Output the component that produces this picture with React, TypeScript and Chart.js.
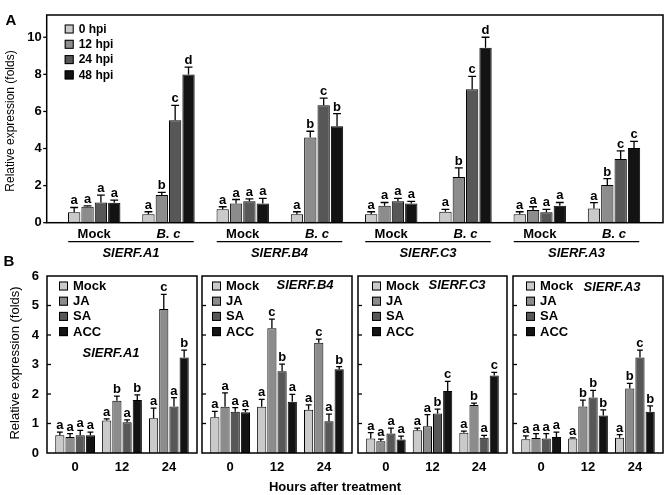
import React, { useEffect, useRef, useState } from "react";
import { Chart, registerables } from "chart.js";

Chart.register(...registerables);

const FONT = "'Liberation Sans', Arial, Helvetica, sans-serif";

// ---------------- Panel A data ----------------
const groupsA = ["Mock", "B. c", "Mock", "B. c", "Mock", "B. c", "Mock", "B. c"];
const genesA = ["SlERF.A1", "SlERF.B4", "SlERF.C3", "SlERF.A3"];
const seriesA = ["0 hpi", "12 hpi", "24 hpi", "48 hpi"];
const yTicksA = [0, 2, 4, 6, 8, 10];

const hpi0 = [0.56, 0.45, 0.72, 0.45, 0.45, 0.59, 0.45, 0.77];
const hpi12 = [0.86, 1.49, 1.04, 4.59, 0.91, 2.47, 0.68, 2.03];
const hpi24 = [1.09, 5.52, 1.15, 6.33, 1.16, 7.19, 0.57, 3.44];
const hpi48 = [1.08, 7.99, 1.04, 5.2, 1.04, 9.43, 0.91, 4.03];
const hpi0Err = [0.26, 0.14, 0.14, 0.14, 0.14, 0.13, 0.14, 0.31];
const hpi12Err = [0.05, 0.14, 0.21, 0.34, 0.18, 0.49, 0.18, 0.35];
const hpi24Err = [0.4, 0.81, 0.14, 0.39, 0.15, 0.7, 0.15, 0.43];
const hpi48Err = [0.14, 0.4, 0.27, 0.68, 0.11, 0.57, 0.18, 0.36];
const hpi0Sig = ["a", "a", "a", "a", "a", "a", "a", "a"];
const hpi12Sig = ["a", "b", "a", "b", "a", "b", "a", "b"];
const hpi24Sig = ["a", "c", "a", "c", "a", "c", "a", "c"];
const hpi48Sig = ["a", "d", "a", "b", "a", "d", "a", "c"];

// ---------------- Panel B data ----------------
const hoursB = ["0", "12", "24"];
const treatmentsB = ["Mock", "JA", "SA", "ACC"];
const yTicksB = [0, 1, 2, 3, 4, 5, 6];
const genesB = ["SlERF.A1", "SlERF.B4", "SlERF.C3", "SlERF.A3"];

// rows: Mock, JA, SA, ACC ; columns: 0, 12, 24 h
const a1Mean = [[0.6, 1.1, 1.18], [0.54, 1.77, 4.88], [0.6, 1.04, 1.58], [0.6, 1.8, 3.24]];
const a1Err = [[0.11, 0.06, 0.34], [0.12, 0.16, 0.5], [0.17, 0.08, 0.3], [0.11, 0.17, 0.25]];
const a1Sig = [["a", "a", "a"], ["a", "b", "c"], ["a", "a", "a"], ["a", "b", "b"]];

const b4Mean = [[1.21, 1.57, 1.47], [1.57, 4.23, 3.74], [1.4, 2.77, 1.08], [1.38, 1.74, 2.84]];
const b4Err = [[0.2, 0.25, 0.16], [0.47, 0.31, 0.12], [0.14, 0.24, 0.24], [0.09, 0.25, 0.09]];
const b4Sig = [["a", "a", "a"], ["a", "c", "c"], ["a", "b", "a"], ["a", "a", "b"]];

const c3Mean = [[0.49, 0.77, 0.69], [0.4, 0.91, 1.63], [0.66, 1.34, 0.52], [0.46, 2.1, 2.63]];
const c3Err = [[0.2, 0.07, 0.05], [0.07, 0.39, 0.06], [0.18, 0.15, 0.08], [0.11, 0.33, 0.1]];
const c3Sig = [["a", "a", "a"], ["a", "a", "b"], ["a", "b", "a"], ["a", "c", "c"]];

const a3Mean = [[0.47, 0.49, 0.52], [0.51, 1.58, 2.19], [0.49, 1.88, 3.24], [0.54, 1.27, 1.4]];
const a3Err = [[0.11, 0.02, 0.1], [0.15, 0.21, 0.17], [0.17, 0.24, 0.25], [0.17, 0.19, 0.2]];
const a3Sig = [["a", "a", "a"], ["a", "b", "b"], ["a", "b", "c"], ["a", "b", "b"]];

const meansB = [a1Mean, b4Mean, c3Mean, a3Mean];
const errsB = [a1Err, b4Err, c3Err, a3Err];
const sigsB = [a1Sig, b4Sig, c3Sig, a3Sig];

// ---------------- styling ----------------
const barColors = ["#cacaca", "#8c8c8c", "#575757", "#131313"];
const W = 666;
const A_TOP = 0;
const A_H = 266;
const B_TOP = 252;
const B_H = 243;
const panelLeft = [47, 202, 358, 513];
const panelRight = [197, 352, 507, 663];
const legendDx = [12, 10, 14, 13];
const innerLabelPos = [
  [64, 77],
  [103, 9],
  [99, 9],
  [99, 11],
];

type Decor = {
  letterSize: number;
  tickValues: number[];
  tickOut: boolean;
  legend: { x: number; y: number; row: number; box: number; size: number; gap: number };
  geneRow?: { genes: string[]; from: number; to: number; lineDy: number; textDy: number };
  innerLabel?: { text: string; dx: number; dy: number };
  pageTop: number;
  texts: { text: string; x: number; y: number; font: string; rotate?: number }[];
};

function makeDecorPlugin(d: Decor) {
  return {
    id: "decor",
    afterDatasetsDraw(chart: any) {
      const ctx = chart.ctx;
      const area = chart.chartArea;
      const ys = chart.scales.y;
      const xs = chart.scales.x;
      ctx.save();
      chart.data.datasets.forEach((ds: any, di: number) => {
        const meta = chart.getDatasetMeta(di);
        meta.data.forEach((bar: any, i: number) => {
          const top = ys.getPixelForValue(ds.data[i].y + ds.errors[i]);
          const half = bar.width * 0.32;
          ctx.strokeStyle = "#000";
          ctx.lineWidth = 1.3;
          ctx.beginPath();
          ctx.moveTo(bar.x, bar.y);
          ctx.lineTo(bar.x, top);
          ctx.moveTo(bar.x - half, top);
          ctx.lineTo(bar.x + half, top);
          ctx.stroke();
          ctx.fillStyle = "#000";
          ctx.font = `bold ${d.letterSize}px ${FONT}`;
          ctx.textAlign = "center";
          ctx.textBaseline = "alphabetic";
          ctx.fillText(ds.letters[i], bar.x, top - 3);
        });
      });
      ctx.strokeStyle = "#000";
      ctx.lineWidth = 1.5;
      ctx.strokeRect(area.left, area.top, area.right - area.left, area.bottom - area.top);
      ctx.lineWidth = 1.3;
      d.tickValues.forEach((v) => {
        const y = ys.getPixelForValue(v);
        if (d.tickOut) {
          ctx.beginPath();
          ctx.moveTo(area.left - 3.5, y);
          ctx.lineTo(area.left, y);
          ctx.stroke();
        } else if (y > area.top + 1 && y < area.bottom - 1) {
          ctx.beginPath();
          ctx.moveTo(area.left, y);
          ctx.lineTo(area.left + 4, y);
          ctx.stroke();
        }
      });
      const lg = d.legend;
      chart.data.datasets.forEach((ds: any, di: number) => {
        const cy = area.top + lg.y + di * lg.row;
        const bx = area.left + lg.x;
        ctx.fillStyle = ds.backgroundColor;
        ctx.fillRect(bx, cy - lg.box / 2, lg.box, lg.box);
        ctx.lineWidth = 1;
        ctx.strokeStyle = "#000";
        ctx.strokeRect(bx + 0.5, cy - lg.box / 2 + 0.5, lg.box - 1, lg.box - 1);
        ctx.fillStyle = "#000";
        ctx.font = `bold ${lg.size}px ${FONT}`;
        ctx.textAlign = "left";
        ctx.textBaseline = "middle";
        ctx.fillText(ds.label, bx + lg.box + lg.gap, cy + 0.5);
      });
      if (d.geneRow) {
        const gr = d.geneRow;
        gr.genes.forEach((g, k) => {
          const x1 = xs.getPixelForValue(2 * k + gr.from);
          const x2 = xs.getPixelForValue(2 * k + 1 + gr.to);
          ctx.strokeStyle = "#000";
          ctx.lineWidth = 1.3;
          ctx.beginPath();
          ctx.moveTo(x1, area.bottom + gr.lineDy);
          ctx.lineTo(x2, area.bottom + gr.lineDy);
          ctx.stroke();
          ctx.fillStyle = "#000";
          ctx.font = `italic bold 13px ${FONT}`;
          ctx.textAlign = "center";
          ctx.textBaseline = "middle";
          ctx.fillText(g, (x1 + x2) / 2, area.bottom + gr.textDy);
        });
      }
      if (d.innerLabel) {
        const il = d.innerLabel;
        ctx.fillStyle = "#000";
        ctx.font = `italic bold 13px ${FONT}`;
        ctx.textAlign = "center";
        ctx.textBaseline = "middle";
        ctx.fillText(il.text, area.left + il.dx, area.top + il.dy);
      }
      d.texts.forEach((t) => {
        ctx.save();
        ctx.translate(t.x, t.y - d.pageTop);
        if (t.rotate) ctx.rotate(t.rotate);
        ctx.font = t.font;
        ctx.fillStyle = "#000";
        ctx.textAlign = "center";
        ctx.textBaseline = "middle";
        ctx.fillText(t.text, 0, 0);
        ctx.restore();
      });
      ctx.restore();
    },
  };
}

function makeConfigA(): any {
  const means = [hpi0, hpi12, hpi24, hpi48];
  const errs = [hpi0Err, hpi12Err, hpi24Err, hpi48Err];
  const sigs = [hpi0Sig, hpi12Sig, hpi24Sig, hpi48Sig];
  const decor: Decor = {
    letterSize: 13,
    tickValues: yTicksA,
    tickOut: true,
    legend: { x: 18, y: 14, row: 15.3, box: 9, size: 12, gap: 5 },
    geneRow: { genes: genesA, from: -0.35, to: 0.34, lineDy: 19, textDy: 30.5 },
    pageTop: A_TOP,
    texts: [
      { text: "A", x: 11, y: 21, font: `bold 15px ${FONT}` },
      { text: "Relative expression (folds)", x: 11, y: 121, rotate: -Math.PI / 2, font: `12px ${FONT}` },
    ],
  };
  return {
    type: "bar",
    data: {
      datasets: seriesA.map((label, s) => ({
        label,
        data: means[s].map((v, i) => ({ x: i, y: v })),
        errors: errs[s],
        letters: sigs[s],
        backgroundColor: barColors[s],
        borderColor: "#000",
        borderWidth: 1,
        categoryPercentage: 0.72,
        barPercentage: 0.92,
      })),
    },
    options: {
      responsive: false,
      animation: false,
      layout: { padding: { left: 0, right: W - 663, top: 15, bottom: 0 } },
      plugins: {
        legend: { display: false },
        tooltip: { enabled: false },
      },
      scales: {
        x: {
          type: "linear",
          offset: false,
          min: -0.64,
          max: 7.66,
          afterBuildTicks: (s: any) => {
            s.ticks = groupsA.map((_, i) => ({ value: i }));
          },
          afterFit: (s: any) => {
            s.height = A_H - 222.7;
          },
          grid: { display: false, drawTicks: false, offset: false },
          border: { display: false },
          ticks: {
            autoSkip: false,
            maxRotation: 0,
            padding: 4,
            color: "#000",
            callback: (v: any) => groupsA[v] ?? "",
            font: (c: any) => ({
              family: FONT,
              size: 13,
              weight: "bold",
              style: groupsA[c.index] === "B. c" ? "italic" : "normal",
            }),
          },
        },
        y: {
          min: 0,
          max: 11.2,
          afterBuildTicks: (s: any) => {
            s.ticks = yTicksA.map((v) => ({ value: v }));
          },
          afterFit: (s: any) => {
            s.width = 46.7;
          },
          grid: { display: false, drawTicks: false },
          border: { display: false },
          ticks: { padding: 5, color: "#000", font: { family: FONT, size: 13, weight: "bold" } },
        },
      },
    },
    plugins: [makeDecorPlugin(decor)],
  };
}

function makeConfigB(p: number): any {
  const texts =
    p === 0
      ? [
          { text: "B", x: 9, y: 262, font: `bold 15px ${FONT}` },
          { text: "Relative expression (folds)", x: 15, y: 363, rotate: -Math.PI / 2, font: `13px ${FONT}` },
          { text: "Hours after treatment", x: 335, y: 487, font: `bold 13px ${FONT}` },
        ]
      : [];
  const decor: Decor = {
    letterSize: 13,
    tickValues: yTicksB,
    tickOut: false,
    legend: { x: legendDx[p], y: 10, row: 15.2, box: 9, size: 13, gap: 5 },
    innerLabel: { text: genesB[p], dx: innerLabelPos[p][0], dy: innerLabelPos[p][1] },
    pageTop: B_TOP,
    texts,
  };
  return {
    type: "bar",
    data: {
      datasets: treatmentsB.map((label, s) => ({
        label,
        data: meansB[p][s].map((v, i) => ({ x: i, y: v })),
        errors: errsB[p][s],
        letters: sigsB[p][s],
        backgroundColor: barColors[s],
        borderColor: "#000",
        borderWidth: 1,
        categoryPercentage: 0.87,
        barPercentage: 0.9,
      })),
    },
    options: {
      responsive: false,
      animation: false,
      layout: {
        padding: {
          left: p === 0 ? 0 : panelLeft[p],
          right: W - panelRight[p],
          top: 276 - B_TOP,
          bottom: 0,
        },
      },
      plugins: {
        legend: { display: false },
        tooltip: { enabled: false },
      },
      scales: {
        x: {
          type: "linear",
          offset: false,
          min: -0.6,
          max: 2.6,
          afterBuildTicks: (s: any) => {
            s.ticks = hoursB.map((_, i) => ({ value: i }));
          },
          afterFit: (s: any) => {
            s.height = B_TOP + B_H - 453;
          },
          grid: { display: false, drawTicks: false, offset: false },
          border: { display: false },
          ticks: {
            autoSkip: false,
            maxRotation: 0,
            padding: 7,
            color: "#000",
            callback: (v: any) => hoursB[v] ?? "",
            font: { family: FONT, size: 13, weight: "bold" },
          },
        },
        y: {
          display: p === 0,
          min: 0,
          max: 6,
          afterBuildTicks: (s: any) => {
            s.ticks = yTicksB.map((v) => ({ value: v }));
          },
          afterFit: (s: any) => {
            if (p === 0) s.width = panelLeft[0];
          },
          grid: { display: false, drawTicks: false },
          border: { display: false },
          ticks: { padding: 8, color: "#000", font: { family: FONT, size: 13, weight: "bold" } },
        },
      },
    },
    plugins: [makeDecorPlugin(decor)],
  };
}

function ChartBox({ make, top, height }: { make: () => any; top: number; height: number }) {
  const ref = useRef<HTMLCanvasElement | null>(null);
  const [err, setErr] = useState("");
  useEffect(() => {
    let chart: any = null;
    try {
      if (ref.current) chart = new Chart(ref.current, make());
    } catch (e: any) {
      setErr(String(e && e.stack ? e.stack : e));
    }
    return () => {
      if (chart) chart.destroy();
    };
  }, []);
  return (
    <div style={{ position: "absolute", left: 0, top, width: W, height }}>
      <canvas ref={ref} width={W} height={height} style={{ width: W, height, display: "block" }} />
      {err ? <pre style={{ position: "absolute", top: 0, left: 0, fontSize: 9, whiteSpace: "pre-wrap" }}>{err}</pre> : null}
    </div>
  );
}

export default function App() {
  return (
    <div style={{ position: "fixed", left: 0, top: 0, width: W, height: 495, overflow: "hidden", background: "#fff" }}>
      <ChartBox make={makeConfigA} top={A_TOP} height={A_H} />
      {[0, 1, 2, 3].map((p) => (
        <ChartBox key={p} make={() => makeConfigB(p)} top={B_TOP} height={B_H} />
      ))}
    </div>
  );
}
